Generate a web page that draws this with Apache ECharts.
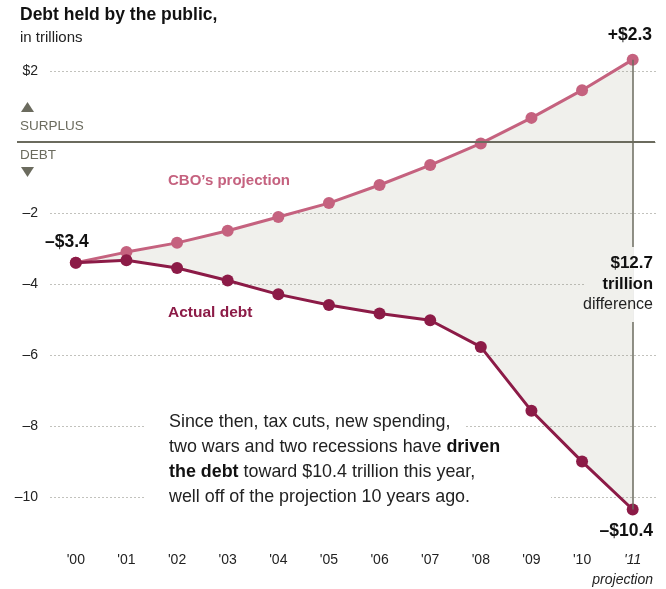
<!DOCTYPE html>
<html><head><meta charset="utf-8">
<script src="https://cdn.jsdelivr.net/npm/echarts@6/dist/echarts.min.js"></script>
<style>html,body{margin:0;padding:0;background:#fff}#c{width:666px;height:589px}</style>
</head><body><div id="c"></div>
<script>
const years = ["'00","'01","'02","'03","'04","'05","'06","'07","'08","'09","'10","'11"];
const cboProjection = [-3.4, -3.1, -2.84, -2.5, -2.11, -1.72, -1.21, -0.65, -0.04, 0.68, 1.46, 2.32];
const actualDebt = [-3.4, -3.33, -3.55, -3.9, -4.29, -4.59, -4.83, -5.02, -5.77, -7.57, -9.0, -10.35];
const yTickValues = [2, -2, -4, -6, -8, -10];

const FONT = '"Liberation Sans", Arial, sans-serif';
const PINK = '#c5627f';
const DARK = '#8c1b47';
const FILL = '#f0f0ec';
const AXISGRAY = '#6b6b5e';
const gapValues = cboProjection.map((v, i) => v - actualDebt[i]);

const chart = echarts.init(document.getElementById('c'));
const option = {
  animation: false,
  backgroundColor: '#fff',
  grid: { left: 50.5, right: 8, top: -2.3, bottom: 20.9, containLabel: false },
  xAxis: {
    type: 'category', data: years, boundaryGap: true,
    axisLine: { show: false }, axisTick: { show: false }, splitLine: { show: false },
    axisLabel: {
      inside: true, margin: 1, fontFamily: FONT, fontSize: 14, color: '#222',
      formatter: (v, i) => i === years.length - 1 ? '{it|' + v + '}' : v,
      rich: { it: { fontStyle: 'italic', fontFamily: FONT, fontSize: 14, color: '#222' } }
    }
  },
  yAxis: {
    type: 'value', min: -12, max: 4, interval: 2,
    axisLine: { show: false }, axisTick: { show: false },
    axisLabel: {
      margin: 12.5, showMinLabel: false, showMaxLabel: false,
      fontFamily: FONT, fontSize: 14, color: '#222',
      formatter: v => (yTickValues.indexOf(v) < 0 ? '' : (v > 0 ? '$' + v : '\u2013' + Math.abs(v)))
    },
    splitLine: { show: true, showMinLine: false, showMaxLine: false,
      lineStyle: { color: '#85857a', type: [1, 3], width: 1 } }
  },
  series: [
    { type: 'line', name: 'base', data: actualDebt, stack: 'fill', stackStrategy: 'all',
      symbol: 'none', lineStyle: { opacity: 0 }, z: -1, silent: true },
    { type: 'line', name: 'gap', data: gapValues, stack: 'fill', stackStrategy: 'all',
      symbol: 'none', lineStyle: { opacity: 0 }, areaStyle: { color: FILL, opacity: 1 }, z: -1, silent: true },
    { type: 'line', name: 'CBO', data: cboProjection, symbol: 'circle', symbolSize: 12,
      lineStyle: { color: PINK, width: 3 }, itemStyle: { color: PINK }, z: 3, silent: true,
      markLine: {
        silent: true, symbol: ['none', 'none'], label: { show: false },
        data: [
          [{ x: 17, yAxis: 0, lineStyle: { color: AXISGRAY, width: 2, type: 'solid' } },
           { x: 655, yAxis: 0 }],
          [{ xAxis: years[11], yAxis: cboProjection[11], lineStyle: { color: AXISGRAY, width: 1.5, type: 'solid' } },
           { xAxis: years[11], yAxis: actualDebt[11] }]
        ]
      }
    },
    { type: 'line', name: 'Actual', data: actualDebt, symbol: 'circle', symbolSize: 12,
      lineStyle: { color: DARK, width: 3 }, itemStyle: { color: DARK }, z: 4, silent: true }
  ],
  graphic: [
    // breaks in gridlines / vertical line behind texts
    { type: 'rect', z: 10, shape: { x: 146, y: 419, width: 320, height: 13 }, style: { fill: '#fff' } },
    { type: 'rect', z: 10, shape: { x: 146, y: 490, width: 405, height: 14 }, style: { fill: '#fff' } },
    { type: 'rect', z: 10, shape: { x: 586, y: 247, width: 47.2, height: 75 }, style: { fill: FILL } },
    { type: 'rect', z: 10, shape: { x: 633.2, y: 247, width: 33, height: 75 }, style: { fill: '#fff' } },
    // title
    { type: 'text', z: 20, x: 20, y: 15, style: { text: 'Debt held by the public,', fontFamily: FONT, fontSize: 17.5, fontWeight: 'bold', fill: '#111', textVerticalAlign: 'middle' } },
    { type: 'text', z: 20, x: 20, y: 38, style: { text: 'in trillions', fontFamily: FONT, fontSize: 15, fill: '#222', textVerticalAlign: 'middle' } },
    // surplus / debt
    { type: 'polygon', z: 20, shape: { points: [[21, 112], [34, 112], [27.5, 102]] }, style: { fill: AXISGRAY } },
    { type: 'text', z: 20, x: 20, y: 126, style: { text: 'SURPLUS', fontFamily: FONT, fontSize: 13.5, fill: AXISGRAY, textVerticalAlign: 'middle' } },
    { type: 'text', z: 20, x: 20, y: 155, style: { text: 'DEBT', fontFamily: FONT, fontSize: 13.5, fill: AXISGRAY, textVerticalAlign: 'middle' } },
    { type: 'polygon', z: 20, shape: { points: [[21, 167], [34, 167], [27.5, 177]] }, style: { fill: AXISGRAY } },
    // series labels
    { type: 'text', z: 20, x: 168, y: 181, style: { text: 'CBO\u2019s projection', fontFamily: FONT, fontSize: 15, fontWeight: 'bold', fill: PINK, textVerticalAlign: 'middle' } },
    { type: 'text', z: 20, x: 168, y: 313, style: { text: 'Actual debt', fontFamily: FONT, fontSize: 15.5, fontWeight: 'bold', fill: DARK, textVerticalAlign: 'middle' } },
    // value labels
    { type: 'text', z: 20, x: 45, y: 242, style: { text: '\u2013$3.4', fontFamily: FONT, fontSize: 17.5, fontWeight: 'bold', fill: '#111', textVerticalAlign: 'middle' } },
    { type: 'text', z: 20, x: 652, y: 35, style: { text: '+$2.3', fontFamily: FONT, fontSize: 17.5, fontWeight: 'bold', fill: '#111', textAlign: 'right', textVerticalAlign: 'middle' } },
    { type: 'text', z: 20, x: 653, y: 531, style: { text: '\u2013$10.4', fontFamily: FONT, fontSize: 17.5, fontWeight: 'bold', fill: '#111', textAlign: 'right', textVerticalAlign: 'middle' } },
    { type: 'text', z: 20, x: 653, y: 263, style: { text: '$12.7', fontFamily: FONT, fontSize: 17, fontWeight: 'bold', fill: '#111', textAlign: 'right', textVerticalAlign: 'middle' } },
    { type: 'text', z: 20, x: 653, y: 284, style: { text: 'trillion', fontFamily: FONT, fontSize: 16.5, fontWeight: 'bold', fill: '#111', textAlign: 'right', textVerticalAlign: 'middle' } },
    { type: 'text', z: 20, x: 653, y: 305, style: { text: 'difference', fontFamily: FONT, fontSize: 16, fill: '#222', textAlign: 'right', textVerticalAlign: 'middle' } },
    { type: 'text', z: 20, x: 653, y: 580, style: { text: 'projection', fontFamily: FONT, fontSize: 14, fontStyle: 'italic', fill: '#222', textAlign: 'right', textVerticalAlign: 'middle' } },
    // annotation
    { type: 'text', z: 20, x: 169, y: 409.5, style: {
      text: 'Since then, tax cuts, new spending,\ntwo wars and two recessions have {b|driven}\n{b|the debt} toward $10.4 trillion this year,\nwell off of the projection 10 years ago.',
      fontFamily: FONT, fontSize: 17.9, lineHeight: 25, fill: '#222', textVerticalAlign: 'top',
      rich: { b: { fontFamily: FONT, fontSize: 17.9, lineHeight: 25, fontWeight: 'bold', fill: '#111' } }
    } }
  ]
};
chart.setOption(option);
</script>
</body></html>
